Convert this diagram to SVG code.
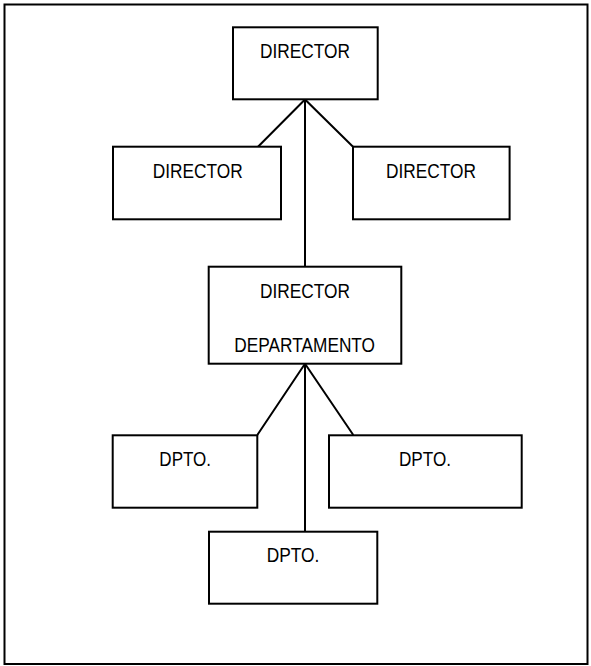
<svg xmlns="http://www.w3.org/2000/svg" width="591" height="666" viewBox="0 0 591 666">
  <style>
    .box { fill: #ffffff; stroke: #000000; stroke-width: 2; }
    .frame { fill: #ffffff; stroke: #000000; stroke-width: 2; }
    .link { fill: none; stroke: #000000; stroke-width: 2; }
    .label { font-family: "Liberation Sans", Arial, sans-serif; font-size: 20.5px; fill: #000000; text-anchor: middle; }
  </style>

  <!-- page frame -->
  <rect class="frame" x="4.5" y="4.5" width="583" height="659.5"/>

  <!-- connectors -->
  <g id="connectors">
    <polyline class="link" points="258,146.7 305,99.5 353,146.7"/>
    <line class="link" x1="305" y1="99.5" x2="305" y2="267"/>
    <polyline class="link" points="257.3,435 305,363.7 353.3,435"/>
    <line class="link" x1="305" y1="363.7" x2="305" y2="531.7"/>
  </g>

  <g id="director-top">
    <rect class="box" x="233" y="27.3" width="144.7" height="72"/>
    <text class="label" x="305" y="58.3" textLength="90" lengthAdjust="spacingAndGlyphs">DIRECTOR</text>
  </g>

  <g id="director-left">
    <rect class="box" x="113" y="146.7" width="168" height="72.6"/>
    <text class="label" x="197.7" y="178.3" textLength="90" lengthAdjust="spacingAndGlyphs">DIRECTOR</text>
  </g>

  <g id="director-right">
    <rect class="box" x="353" y="146.7" width="156.6" height="72.6"/>
    <text class="label" x="431" y="178.3" textLength="90" lengthAdjust="spacingAndGlyphs">DIRECTOR</text>
  </g>

  <g id="director-departamento">
    <rect class="box" x="208.7" y="266.7" width="192.6" height="97"/>
    <text class="label" x="305" y="297.7" textLength="90" lengthAdjust="spacingAndGlyphs">DIRECTOR</text>
    <text class="label" x="304.7" y="352.3" textLength="140.7" lengthAdjust="spacingAndGlyphs">DEPARTAMENTO</text>
  </g>

  <g id="dpto-left">
    <rect class="box" x="112.7" y="435.3" width="144.6" height="72.4"/>
    <text class="label" x="185.2" y="465.7" textLength="51.7" lengthAdjust="spacingAndGlyphs">DPTO.</text>
  </g>

  <g id="dpto-right">
    <rect class="box" x="329" y="435.3" width="192.7" height="72.4"/>
    <text class="label" x="425" y="465.7" textLength="52" lengthAdjust="spacingAndGlyphs">DPTO.</text>
  </g>

  <g id="dpto-bottom">
    <rect class="box" x="209" y="531.7" width="168.3" height="72"/>
    <text class="label" x="293" y="561.7" textLength="52.6" lengthAdjust="spacingAndGlyphs">DPTO.</text>
  </g>
</svg>
